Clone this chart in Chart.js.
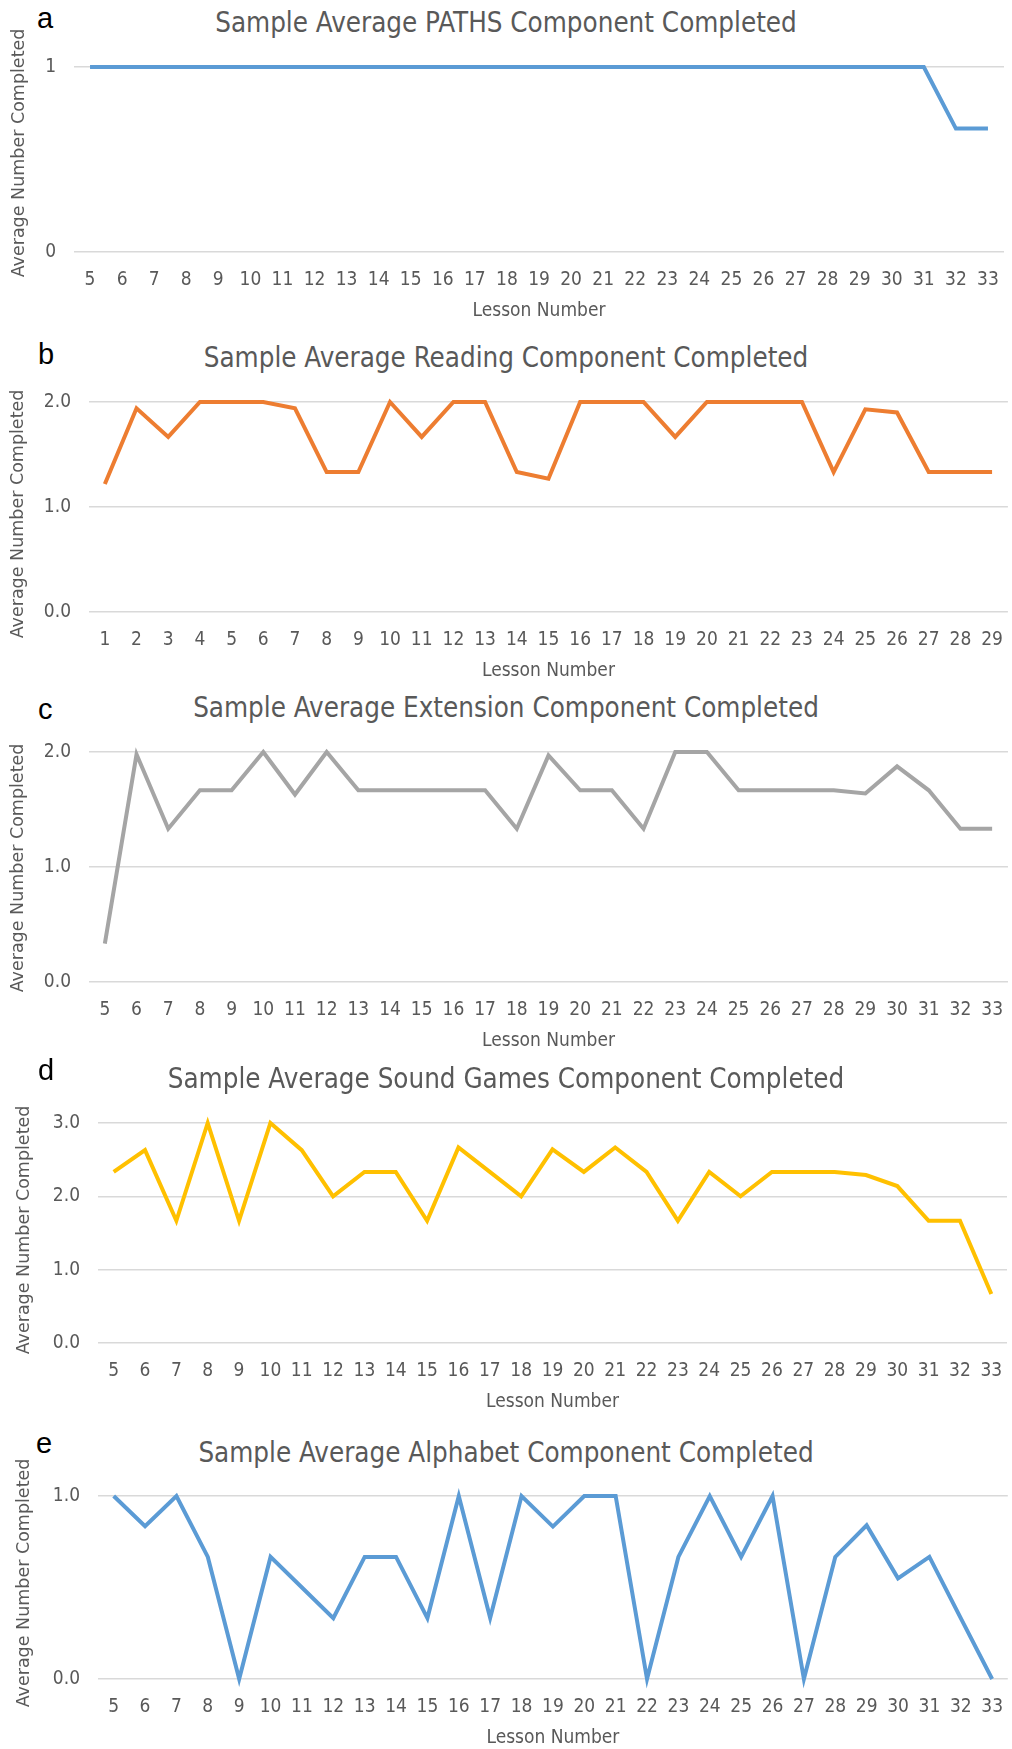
<!DOCTYPE html>
<html>
<head>
<meta charset="utf-8">
<script src="https://cdn.jsdelivr.net/npm/chart.js@4.4.1/dist/chart.umd.min.js"></script>
<style>
  html, body { margin: 0; padding: 0; background: #fff; overflow: hidden; }
  #page { position: relative; width: 1012px; height: 1749px; }
  .title {
    position: absolute; left: 0; width: 1012px; text-align: center;
    font-family: 'Liberation Sans Narrow', 'DejaVu Sans Condensed', sans-serif;
    font-size: 27.5px; line-height: 32px; color: #595959;
  }
  .tag {
    position: absolute; font-family: 'Liberation Sans', Arial, sans-serif;
    font-size: 29px; line-height: 28px; color: #000;
  }
  canvas { position: absolute; left: 0; }
</style>
</head>
<body>
<div id="page"></div>
<script>
// lesson labels on the x axis
var lessons5to33 = ['5','6','7','8','9','10','11','12','13','14','15','16','17','18','19',
  '20','21','22','23','24','25','26','27','28','29','30','31','32','33'];
var lessons1to29 = ['1','2','3','4','5','6','7','8','9','10','11','12','13','14','15',
  '16','17','18','19','20','21','22','23','24','25','26','27','28','29'];

// average number completed, per lesson
var pathsValues = [1,1,1,1,1,1,1,1,1,1,1,1,1,1,1,1,1,1,1,1,1,1,1,1,1,1,1,0.667,0.667];
var readingValues = [1.22,1.94,1.667,2,2,2,1.94,1.333,1.333,2,1.667,2,2,1.333,1.27,
  2,2,2,1.667,2,2,2,2,1.333,1.93,1.9,1.333,1.333,1.333];
var extensionValues = [0.333,1.98,1.333,1.667,1.667,2,1.63,2,1.667,1.667,1.667,1.667,1.667,1.333,1.97,
  1.667,1.667,1.333,2,2,1.667,1.667,1.667,1.667,1.64,1.875,1.667,1.333,1.333];
var soundGamesValues = [2.333,2.63,1.667,3,1.667,3,2.63,2,2.333,2.333,1.667,2.667,2.333,2,2.64,
  2.333,2.667,2.333,1.667,2.333,2,2.333,2.333,2.333,2.29,2.14,1.667,1.667,0.667];
var alphabetValues = [1,0.835,1,0.667,0,0.667,0.5,0.333,0.667,0.667,0.333,1,0.333,1,0.833,
  1,1,0,0.667,1,0.667,1,0,0.667,0.84,0.55,0.667,0.333,0];

var grey = '#595959';
var narrow = "'Liberation Sans Narrow', 'DejaVu Sans Condensed', sans-serif";

// one entry per panel: where it sits and how it looks
var panels = [
  { tag: 'a', tagX: 37, tagY: 4, title: 'Sample Average PATHS Component Completed', titleY: 22,
    labels: lessons5to33, values: pathsValues, color: '#5B9BD5', max: 1, decimals: 0,
    top: 67, bottom: 252, left: 74, right: 1004, yTitleX: 19, yTitleY: 153 },
  { tag: 'b', tagX: 38, tagY: 340, title: 'Sample Average Reading Component Completed', titleY: 357,
    labels: lessons1to29, values: readingValues, color: '#ED7D31', max: 2, decimals: 1,
    top: 402, bottom: 612, left: 89, right: 1009, yTitleX: 18, yTitleY: 514 },
  { tag: 'c', tagX: 38, tagY: 695, title: 'Sample Average Extension Component Completed', titleY: 707,
    labels: lessons5to33, values: extensionValues, color: '#A5A5A5', max: 2, decimals: 1,
    top: 752, bottom: 982, left: 89, right: 1012, yTitleX: 18, yTitleY: 868 },
  { tag: 'd', tagX: 38, tagY: 1056, title: 'Sample Average Sound Games Component Completed', titleY: 1078,
    labels: lessons5to33, values: soundGamesValues, color: '#FFC000', max: 3, decimals: 1,
    top: 1123, bottom: 1343, left: 98, right: 1007, yTitleX: 24, yTitleY: 1230 },
  { tag: 'e', tagX: 36, tagY: 1429, title: 'Sample Average Alphabet Component Completed', titleY: 1452,
    labels: lessons5to33, values: alphabetValues, color: '#5B9BD5', max: 1, decimals: 1,
    top: 1496, bottom: 1679, left: 98, right: 1012, yTitleX: 24, yTitleY: 1583 }
];

// vertical axis title drawn without the width limit Chart.js puts on it
var sideTitle = {
  id: 'sideTitle',
  afterDraw: function (chart, args, opts) {
    var ctx = chart.ctx;
    ctx.save();
    ctx.translate(opts.x, opts.y);
    ctx.rotate(-Math.PI / 2);
    ctx.font = opts.size + "px 'DejaVu Sans', sans-serif";
    ctx.fillStyle = opts.color;
    ctx.textAlign = 'center';
    ctx.textBaseline = 'middle';
    ctx.fillText(opts.text, 0, 0);
    ctx.restore();
  }
};

var page = document.getElementById('page');
var padTop = 45;
var xAxisHeight = 75;

panels.forEach(function (p) {
  var tag = document.createElement('div');
  tag.className = 'tag';
  tag.style.left = p.tagX + 'px';
  tag.style.top = p.tagY + 'px';
  tag.textContent = p.tag;
  page.appendChild(tag);

  var title = document.createElement('div');
  title.className = 'title';
  title.style.top = (p.titleY - 16) + 'px';
  title.textContent = p.title;
  page.appendChild(title);

  var canvasTop = p.top - padTop;
  var canvas = document.createElement('canvas');
  canvas.width = 1012;
  canvas.height = padTop + (p.bottom - p.top) + xAxisHeight;
  canvas.style.top = canvasTop + 'px';
  page.appendChild(canvas);

  new Chart(canvas.getContext('2d'), {
    type: 'line',
    data: {
      labels: p.labels,
      datasets: [{
        data: p.values,
        borderColor: p.color,
        borderWidth: 4,
        pointRadius: 0,
        tension: 0,
        clip: false
      }]
    },
    plugins: [sideTitle],
    options: {
      responsive: false,
      animation: false,
      layout: { padding: { top: padTop, left: 0, right: 1012 - p.right, bottom: 0 } },
      plugins: {
        legend: { display: false },
        tooltip: { enabled: false },
        sideTitle: { text: 'Average Number Completed', x: p.yTitleX, y: p.yTitleY - canvasTop,
                     size: 17.5, color: grey }
      },
      scales: {
        x: {
          type: 'category',
          offset: true,
          grid: { display: false },
          border: { display: false },
          ticks: { color: grey, font: { family: narrow, size: 19 }, padding: 9,
                   autoSkip: false, maxRotation: 0 },
          title: { display: true, text: 'Lesson Number', color: grey,
                   font: { family: narrow, size: 19 }, padding: { top: 0, bottom: 5 } },
          afterFit: function (s) { s.height = xAxisHeight; }
        },
        y: {
          min: 0,
          max: p.max,
          grid: { color: '#d9d9d9', lineWidth: 1.5, drawTicks: false },
          border: { display: false },
          ticks: {
            stepSize: 1, padding: 18, color: grey,
            font: { family: narrow, size: 19 },
            callback: function (v) { return v.toFixed(p.decimals); }
          },
          afterFit: function (s) { s.width = p.left; }
        }
      }
    }
  });
});
</script>
</body>
</html>
